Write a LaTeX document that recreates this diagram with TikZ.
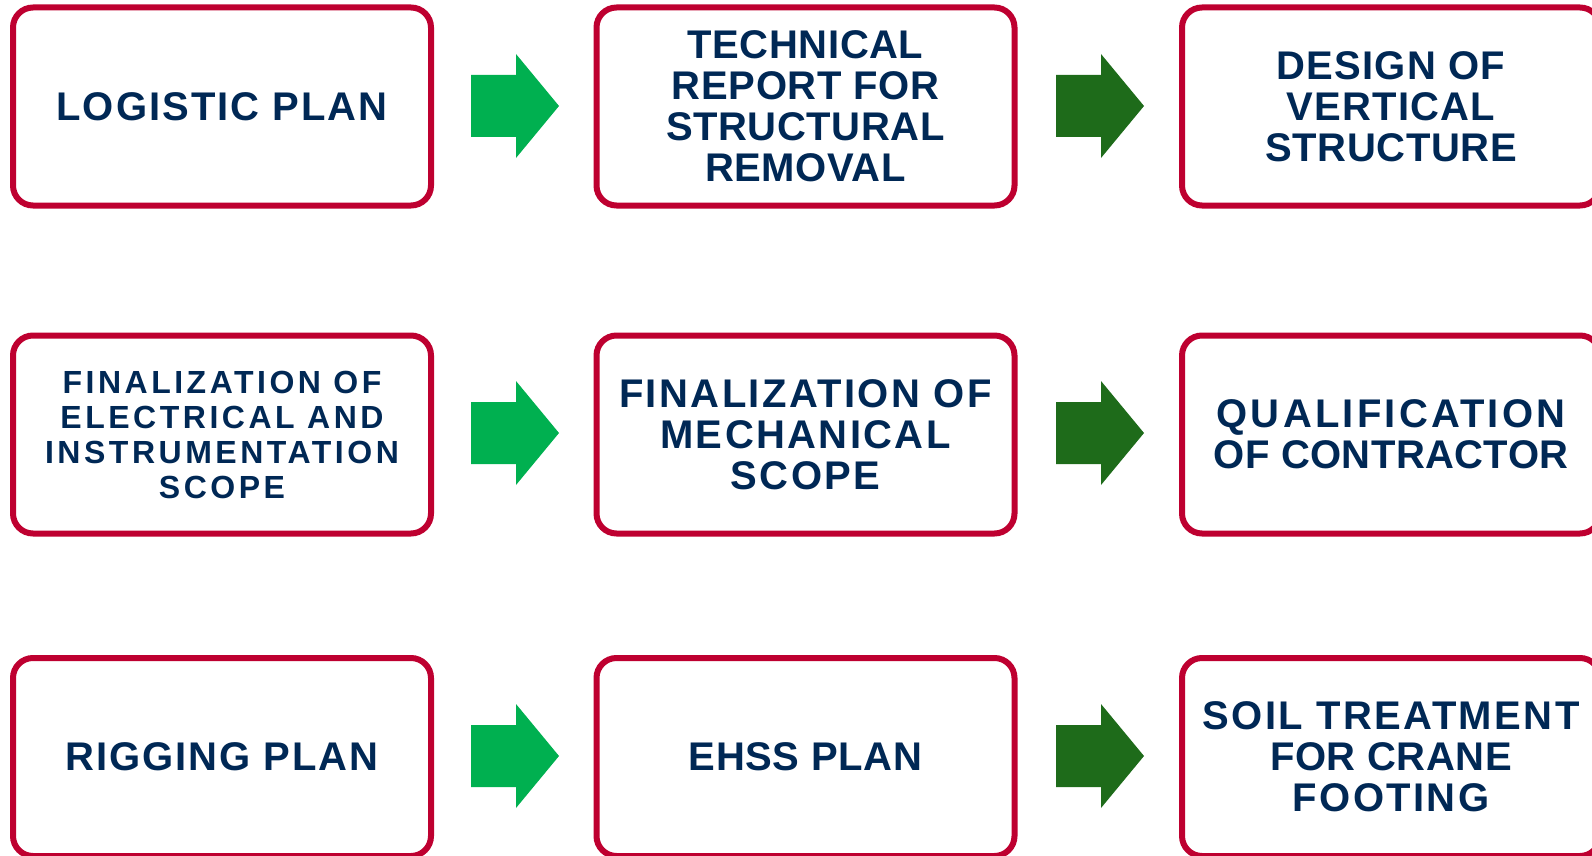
\documentclass[tikz,border=0pt]{standalone}
\usepackage{fontspec}
\setmainfont{Liberation Sans}
\newfontfamily\boxfont{Liberation Sans Bold}
\newcommand{\lsp}[1]{\addfontfeature{LetterSpace=#1}}
\definecolor{boxred}{HTML}{BE0030}
\definecolor{navy}{HTML}{002855}
\definecolor{lgreen}{HTML}{00B050}
\definecolor{dgreen}{HTML}{1E6B1A}
\tikzset{
  stepbox/.style={draw=boxred, line width=6pt, rounded corners=20pt, fill=white,
    minimum width=418pt, minimum height=198pt, align=center, inner sep=0pt,
    text=navy, font=\boxfont\fontsize{40}{41}\selectfont\lsp{1.5}},
  smallbox/.style={font=\boxfont\fontsize{32}{35}\selectfont\lsp{11}},
  spacedbox/.style={font=\boxfont\fontsize{40}{41}\selectfont\lsp{6}},
  widebox/.style={font=\boxfont\fontsize{40}{41}\selectfont\lsp{5}},
  lightarrow/.style={fill=lgreen},
  darkarrow/.style={fill=dgreen}
}
\newcommand{\blockarrow}[2]{% #1 coordinate name (arrow centre), #2 style
  \fill[#2] (#1) ++(-44,-31) -- ++(45,0) -- ++(0,-21) -- ++(43,52) -- ++(-43,52) -- ++(0,-21) -- ++(-45,0) -- cycle;}
\begin{document}
\begin{tikzpicture}[x=1pt,y=-1pt]
\useasboundingbox (0,0) rectangle (1592,856);
% row 1
\node[stepbox, widebox] (b11) at (222,106.5) {LOGISTIC PLAN};
\node[stepbox] (b12) at (805.5,106.5) {TECHNICAL\\REPORT FOR\\STRUCTURAL\\REMOVAL};
\node[stepbox] (b13) at (1391,106.5) {\lsp{3}DESIGN OF\\\lsp{3}VERTICAL\\STRUCTURE};
% row 2
\node[stepbox, smallbox] (b21) at (222,434.5) {FINALIZATION OF\\ELECTRICAL AND\\INSTRUMENTATION\\SCOPE};
\node[stepbox, spacedbox] (b22) at (805.5,434.5) {FINALIZATION OF\\MECHANICAL\\SCOPE};
\node[stepbox] (b23) at (1391,434.5) {\lsp{8}QUALIFICATION\\\lsp{1}OF CONTRACTOR};
% row 3
\node[stepbox, widebox] (b31) at (222,757) {RIGGING PLAN};
\node[stepbox] (b32) at (805.5,757) {EHSS PLAN};
\node[stepbox] (b33) at (1391,757) {\lsp{6}SOIL TREATMENT\\FOR CRANE\\\lsp{6}FOOTING};
% arrows
\coordinate (a11) at (515,106);
\coordinate (a12) at (1100,106);
\coordinate (a21) at (515,433);
\coordinate (a22) at (1100,433);
\coordinate (a31) at (515,756);
\coordinate (a32) at (1100,756);
\blockarrow{a11}{lightarrow}
\blockarrow{a12}{darkarrow}
\blockarrow{a21}{lightarrow}
\blockarrow{a22}{darkarrow}
\blockarrow{a31}{lightarrow}
\blockarrow{a32}{darkarrow}
\end{tikzpicture}
\end{document}
